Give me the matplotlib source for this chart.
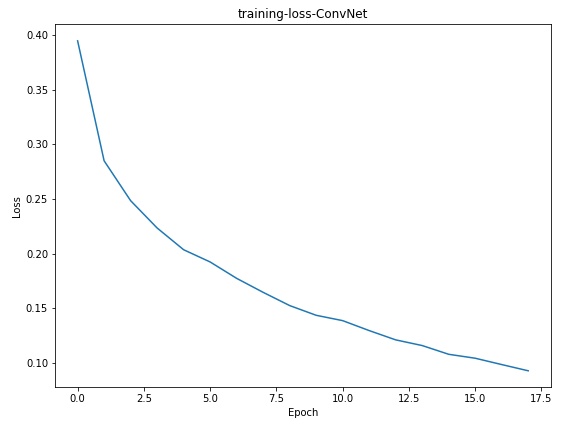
import matplotlib
matplotlib.use("Agg")
from matplotlib import pyplot as plt

# perdida de entrenamiento por epoca
epochs = list(range(18))
loss = [0.3948, 0.2850, 0.2485, 0.2235, 0.2036, 0.1924, 0.1774, 0.1646, 0.1525,
        0.1436, 0.1387, 0.1296, 0.1211, 0.1159, 0.1079, 0.1043, 0.0985, 0.0928]

plt.figure(figsize=(562/72, 427/72), dpi=72)
plt.plot(epochs, loss)
plt.title("training-loss-ConvNet")
plt.xlabel("Epoch")
plt.ylabel("Loss")
plt.subplots_adjust(left=0.098, right=0.980, top=0.943, bottom=0.093)
plt.savefig("out.png", dpi=72)
